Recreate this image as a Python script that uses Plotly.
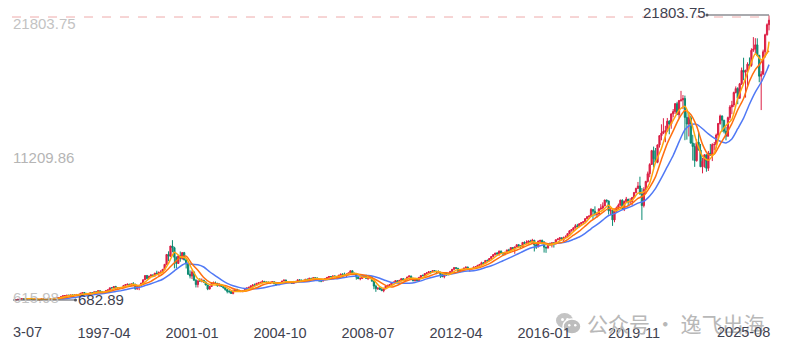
import plotly.graph_objects as go

# Monthly candles, 1993-07 .. 2025-08 (open = previous month's close)
months = [f"{y}-{m:02d}" for y in range(1993, 2026) for m in range(1, 13)][6:-4]
first_open = 704
closes = [705,743,763,779,754,777,
800,793,743,733,735,706,722,766,764,777,750,752,
755,793,817,843,865,933,1001,1020,1044,1036,1059,1052,
1060,1100,1101,1191,1243,1185,1081,1141,1227,1222,1293,1291,
1380,1309,1222,1261,1400,1442,1594,1587,1686,1594,1601,1570,
1619,1771,1835,1868,1779,1894,1872,1499,1694,1771,1950,2193,
2506,2288,2461,2543,2471,2686,2638,2739,2746,2966,3336,4069,
3940,4696,4573,3860,3400,3966,3767,4206,3673,3370,2597,2471,
2772,2151,1840,2116,2110,2160,2027,1805,1499,1690,1931,1950,
1934,1731,1845,1688,1616,1463,1328,1315,1172,1330,1479,1336,
1321,1338,1341,1464,1596,1623,1735,1810,1787,1932,1960,2003,
2066,2030,1994,1920,1987,2048,1887,1838,1897,1975,2097,2175,
2062,2052,1999,1922,2068,2057,2185,2152,2152,2120,2233,2205,
2306,2281,2340,2322,2179,2172,2091,2184,2258,2367,2432,2415,
2464,2416,2422,2525,2605,2603,2546,2596,2702,2859,2661,2652,
2390,2271,2279,2413,2523,2293,2326,2368,2092,1721,1536,1577,
1476,1378,1529,1717,1774,1835,1979,2009,2122,2045,2145,2269,
2147,2238,2398,2461,2257,2109,2255,2114,2369,2507,2498,2653,
2700,2782,2781,2874,2835,2774,2756,2579,2415,2684,2620,2605,
2814,2967,3092,3046,2827,2935,2940,3067,3116,2977,3010,3020,
3142,3160,3268,3329,3456,3403,3626,3590,3771,3920,4060,4177,
4104,4308,4199,4115,4243,4408,4370,4580,4493,4631,4792,4736,
4635,4964,4901,4941,5070,4987,5128,4777,4620,5054,5109,5007,
4614,4558,4870,4775,4948,4843,5162,5213,5312,5189,5324,5383,
5615,5825,5912,6048,6199,6140,6348,6429,6496,6728,6874,6903,
7411,7273,7063,7066,7442,7510,7672,8110,8046,7306,7331,6635,
7282,7533,7729,8095,7453,8006,8175,7963,7999,8292,8665,8973,
9151,8567,7700,8890,9490,10059,10745,11775,11168,10912,12199,12888,
13071,13192,13247,13963,13749,14504,14673,15259,14449,15498,15538,15645,
14240,13751,14221,12335,12081,11029,12391,11816,10576,10988,11468,10466,
11585,11456,12222,12227,12935,13788,14346,14035,13219,12851,14226,15011,
15164,16092,16379,15658,16735,17733,17599,17714,18189,18095,19218,19311,
19627,18847,17299,17446,19114,20370,21122,21456]
highs = [716,746,769,788,787,780,
803,804,806,752,745,740,728,770,778,782,780,758,
765,795,820,845,868,935,1005,1022,1048,1058,1062,1070,
1066,1118,1120,1195,1250,1245,1186,1145,1232,1245,1295,1316,
1395,1402,1315,1265,1405,1445,1600,1640,1697,1745,1640,1610,
1640,1772,1840,1890,1880,1895,2015,1880,1760,1790,1950,2199,
2510,2550,2465,2600,2600,2690,2865,2810,2900,2970,3336,4090,
4303,4696,5132,4640,3920,3990,4290,4250,4260,3650,3500,2890,
2890,2800,2240,2120,2315,2290,2180,2060,1800,1750,1945,2060,
2060,1935,1930,1845,1700,1620,1470,1430,1335,1480,1490,1522,
1470,1380,1425,1470,1600,1680,1775,1840,1910,1940,1990,2010,
2155,2110,2055,2070,2060,2055,2050,1900,1925,1990,2105,2180,
2192,2100,2090,2010,2075,2110,2220,2220,2185,2160,2240,2280,
2335,2310,2350,2375,2360,2200,2180,2190,2275,2395,2465,2470,
2510,2530,2450,2560,2640,2650,2725,2660,2710,2865,2850,2725,
2655,2430,2380,2455,2550,2555,2370,2465,2475,2115,1830,1625,
1675,1570,1600,1740,1820,1880,1995,2040,2165,2170,2190,2300,
2325,2250,2405,2535,2500,2350,2310,2300,2380,2535,2590,2675,
2770,2840,2845,2888,2890,2780,2890,2770,2730,2750,2760,2680,
2830,2980,3135,3110,3050,2940,2980,3080,3195,3180,3070,3075,
3170,3195,3270,3345,3530,3515,3630,3695,3795,3940,4070,4180,
4245,4365,4370,4220,4250,4410,4490,4595,4610,4640,4810,4815,
4770,4975,5040,5120,5115,5160,5230,5110,4940,5100,5165,5175,
5000,4640,4870,4955,4950,4980,5170,5275,5340,5310,5400,5490,
5625,5865,5940,6080,6320,6340,6375,6460,6500,6750,6915,7000,
7505,7420,7640,7210,7505,7800,7935,8130,8135,8050,7465,7485,
7410,7630,7850,8140,8165,8070,8340,8040,8250,8340,8710,9020,
9450,9840,9000,9060,9530,10220,10840,11830,12075,11970,12230,12900,
13730,14180,13620,14200,14030,14520,14860,15300,15400,15500,16210,15900,
15860,14630,14650,14360,12950,12320,12620,13180,12270,11240,11510,11470,
11750,12270,12320,12420,13040,13830,14450,14390,14050,13530,14300,15150,
15470,16150,16540,16480,16800,17940,18670,17790,18330,18690,19370,20200,
20120,20110,18880,17670,19270,20450,21220,21803.75]
lows = [682.89,699,735,760,740,745,
770,778,741,706,712,700,702,722,750,755,742,728,
740,755,790,815,840,868,935,1000,1020,1020,1030,1040,
1000,1060,1075,1100,1190,1170,1045,1075,1135,1205,1225,1255,
1288,1298,1220,1200,1260,1395,1440,1565,1582,1500,1530,1510,
1535,1618,1770,1830,1755,1755,1860,1480,1475,1420,1765,1890,
2195,2235,2270,2440,2380,2440,2630,2490,2660,2710,2960,3330,
3570,3900,4230,3040,3040,3390,3530,3680,3630,3030,2560,2290,
2250,2150,1620,1620,2040,2000,1960,1780,1420,1490,1690,1900,
1880,1695,1730,1680,1530,1380,1185,1190,1165,1110,1320,1320,
1320,1270,1255,1340,1460,1580,1620,1680,1760,1790,1880,1930,
2000,2010,1910,1920,1900,1965,1875,1750,1830,1880,1970,2090,
2030,2020,1970,1890,1910,2030,2050,2140,2100,2030,2110,2190,
2190,2240,2270,2310,2165,2020,2010,2080,2175,2255,2350,2390,
2395,2400,2340,2415,2505,2570,2540,2390,2550,2690,2540,2590,
2200,2245,2155,2260,2400,2290,2170,2300,2040,1490,1295,1430,
1430,1370,1265,1490,1660,1770,1725,1960,1970,2020,2030,2140,
2100,2115,2240,2385,2205,2095,2090,2110,2120,2355,2460,2500,
2660,2730,2610,2730,2760,2610,2745,2330,2400,2300,2470,2520,
2630,2810,2950,3000,2725,2730,2830,2910,3040,2960,2790,2950,
3075,3130,3120,3200,3320,3295,3400,3560,3590,3745,3900,3990,
4060,3970,4115,3950,4010,4210,4350,4340,4470,4120,4620,4550,
4560,4670,4830,4865,4900,4960,4960,4290,4480,4620,4970,4900,
4210,4190,4500,4720,4590,4580,4830,5130,5070,5190,5040,5300,
5390,5620,5770,5820,5995,6080,6090,6200,6335,6500,6700,6720,
6925,6630,6900,6800,7050,7380,7410,7660,7920,7030,6990,6190,
6460,7270,7410,7720,7450,7290,7930,7660,7800,7700,8260,8600,
8940,8500,6630,7560,8550,9400,9800,10870,10520,10820,10840,12000,
12540,13000,12400,13170,12990,13400,14250,14500,14450,14200,15400,14860,
12550,12590,12830,12300,11040,10570,10960,11810,10580,10090,10510,10207,
10265,11390,11000,11800,11950,12700,13700,13160,13060,12540,12810,14050,
14480,15010,16020,15220,15650,16640,17000,15710,16600,17960,18000,19100,
19000,18780,16850,14784,17690,18680,20320,20700]
opens = [first_open] + closes[:-1]

# Moving-average lines, read at three-month steps
ma5_values = [749,
775,769,728,747,760,792,892,1007,1050,1101,1160,1171,1283,1293,1384,1581,
1614,1731,1850,1750,2022,2398,2560,2755,3411,4228,3913,3796,2977,2264,2051,1836,
1802,1830,1588,1322,1328,1360,1552,1777,1950,2003,1967,1929,2042,2042,2046,2133,
2203,2291,2248,2214,2387,2448,2540,2662,2664,2401,2367,2160,1680,1535,1767,1997,
2146,2305,2296,2271,2545,2758,2804,2610,2596,2905,2968,3007,3053,3180,3416,3662,
4006,4181,4267,4496,4657,4835,5005,4913,4880,4765,4918,5142,5362,5761,6130,6410,
6891,7144,7351,7729,7318,7455,7912,8087,8616,8696,9377,10932,11936,13265,14027,14777,
15074,14044,12411,11360,11061,11584,13078,13648,14094,15660,16742,17944,18972,18506,19026,19864]
ma10_values = [759,754,744,746,774,829,911,991,1066,1111,1155,1225,1243,1341,1448,
1535,1673,1740,1760,1903,2078,2351,2604,3014,3456,3857,3945,3364,2896,2361,2017,
1922,1810,1718,1542,1405,1342,1456,1595,1798,1924,1983,1964,1989,1990,2059,2077,
2140,2230,2225,2250,2288,2357,2480,2574,2614,2557,2467,2268,2032,1772,1652,1786,
2004,2181,2232,2286,2392,2553,2716,2718,2696,2738,2853,2978,3008,3103,3257,3467,
3744,4007,4190,4345,4500,4704,4879,4908,4931,4851,4894,4948,5176,5498,5798,6174,
6558,6859,7194,7490,7440,7574,7615,7853,8237,8438,9053,9846,11120,12316,13240,14161,
14752,14461,13593,12243,11474,11520,12248,12966,13780,14798,15645,16936,17788,18337,19045,19181]
ma20_values = [758,765,788,828,878,938,997,1060,1133,1170,1240,1325,
1386,1490,1576,1633,1765,1898,2052,2230,2517,2858,3188,3411,3336,3310,3139,2787,
2487,2175,1925,1748,1626,1545,1528,1523,1580,1671,1766,1847,1935,1976,2014,2029,
2064,2133,2148,2184,2244,2292,2361,2425,2474,2498,2505,2434,2304,2134,1993,1948,
1931,1936,1986,2108,2257,2384,2492,2537,2597,2700,2785,2840,2866,2959,3096,3232,
3408,3606,3793,3998,4210,4417,4586,4678,4783,4836,4896,4936,5027,5189,5364,5637,
5975,6279,6622,6960,7100,7328,7503,7655,7883,8020,8414,8978,9746,10582,11411,12428,
13335,13697,13724,13399,13016,12701,12470,12348,12642,13401,14186,15222,16123,16850,17775,18158]
ma5_months = [months[4]] + months[6::3] + [months[-1]]
ma10_months = months[9::3] + [months[-1]]
ma20_months = [months[19]] + months[21::3] + [months[-1]]

tick_months = ["1997-04", "2001-01", "2004-10", "2008-07", "2012-04", "2016-01", "2019-11"]
first_label, last_month = "3-07", "2025-08"
axis_labels = ["21803.75", "11209.86", "615.98"]
max_high, min_low = "21803.75", "682.89"
axis_min, axis_top = 615.98, 21841

assert len(months) == len(closes) == len(highs) == len(lows) == 386
assert len(ma5_months) == len(ma5_values)
assert len(ma10_months) == len(ma10_values)
assert len(ma20_months) == len(ma20_values)

W, H = 794, 355
L, R, T, B = 15, 770, 15, 301
xp = lambda px: (px - L) / (R - L)
yp = lambda py: (B - py) / (B - T)

UP, DOWN = "#dc1f45", "#0b8a72"
fig = go.Figure()
fig.add_trace(go.Candlestick(
    x=months, open=opens, high=highs, low=lows, close=closes,
    increasing=dict(line=dict(color=UP, width=1), fillcolor=UP),
    decreasing=dict(line=dict(color=DOWN, width=1), fillcolor=DOWN),
    whiskerwidth=0, showlegend=False, hoverinfo="skip"))
for xs, ys, col in [(ma20_months, ma20_values, "#5079f5"),
                    (ma10_months, ma10_values, "#ff6f0f"),
                    (ma5_months, ma5_values, "#ffa60f")]:
    fig.add_trace(go.Scatter(x=xs, y=ys, mode="lines", showlegend=False, hoverinfo="skip",
                             line=dict(color=col, width=1.5, shape="spline", smoothing=0.6)))

def oval(x0, x1, y0, y1, color, line=None, layer="above"):
    return dict(type="circle", xref="paper", yref="paper", x0=xp(x0), x1=xp(x1), y0=yp(y1), y1=yp(y0),
                fillcolor=color, line=line or dict(width=0), layer=layer)

shapes = [
    dict(type="line", xref="paper", yref="paper", x0=xp(12), x1=xp(770), y0=yp(17), y1=yp(17),
         line=dict(color="#eeaaaa", width=1, dash="dash")),
    dict(type="line", xref="paper", yref="paper", x0=xp(707), x1=xp(769), y0=yp(15), y1=yp(15),
         line=dict(color="#55565e", width=1.2)),
    oval(705.5, 708.5, 13.5, 16.5, "#55565e"),
    dict(type="line", xref="paper", yref="paper", x0=xp(13), x1=xp(76), y0=yp(300), y1=yp(300),
         line=dict(color="#55565e", width=1.2)),
    oval(74, 77, 298.5, 301.5, "#55565e"),
    # watermark icon: two overlapping speech bubbles with eyes, under the tick labels
    oval(556, 573, 313, 328, "#c4c4c4", layer="below"),
    oval(561, 564, 318, 321, "white", layer="below"),
    oval(566, 569, 318, 321, "white", layer="below"),
    oval(563, 581, 319, 334, "#bdbdbd", dict(color="white", width=1.5), layer="below"),
    oval(568, 570.5, 324, 326.5, "white", layer="below"),
    oval(574, 576.5, 324, 326.5, "white", layer="below"),
]

def note(text, px, py, anchor, color, size, family="Liberation Sans, Arial"):
    return dict(text=text, xref="paper", yref="paper", x=xp(px), y=yp(py), xanchor=anchor,
                yanchor="middle", showarrow=False, borderpad=0, borderwidth=0,
                font=dict(color=color, size=size, family=family))

annotations = [
    note("公众号\u00a0·\u00a0逸飞出海", 587, 323, "left", "#b8b8b8", 21, "Noto Sans CJK SC"),
    note(axis_labels[0], 13, 23, "left", "#c3c3c3", 15),
    note(axis_labels[1], 13, 157, "left", "#b5b5b5", 15),
    note(axis_labels[2], 13, 297, "left", "#c3c3c3", 15),
    note(max_high, 706, 13, "right", "#3f4250", 15),
    note(min_low, 78, 299, "left", "#3f4250", 15),
    note(first_label, 13, 332, "left", "#3f4250", 14.5),
    note(last_month, 770, 332, "right", "#3f4250", 14.5),
]

fig.update_layout(
    width=W, height=H, margin=dict(l=L, r=W - R, t=T, b=H - B, autoexpand=False),
    paper_bgcolor="white", plot_bgcolor="white", showlegend=False,
    shapes=shapes, annotations=annotations, boxgap=0.1,
    xaxis=dict(type="category", categoryorder="array", categoryarray=months, range=[-0.5, 385.5],
               rangeslider=dict(visible=False), showgrid=False, zeroline=False, showline=False,
               tickmode="array", tickvals=tick_months, ticktext=tick_months, ticks="",
               ticklabelstandoff=21, tickfont=dict(family="Liberation Sans, Arial", size=14.5, color="#3f4250")),
    yaxis=dict(range=[axis_min, axis_top], showgrid=False, zeroline=False, showline=False,
               showticklabels=False, ticks=""),
)
fig.write_html("out.html", config={"displayModeBar": False},
               post_script="document.body.style.margin='0';document.documentElement.style.overflow='hidden';")
